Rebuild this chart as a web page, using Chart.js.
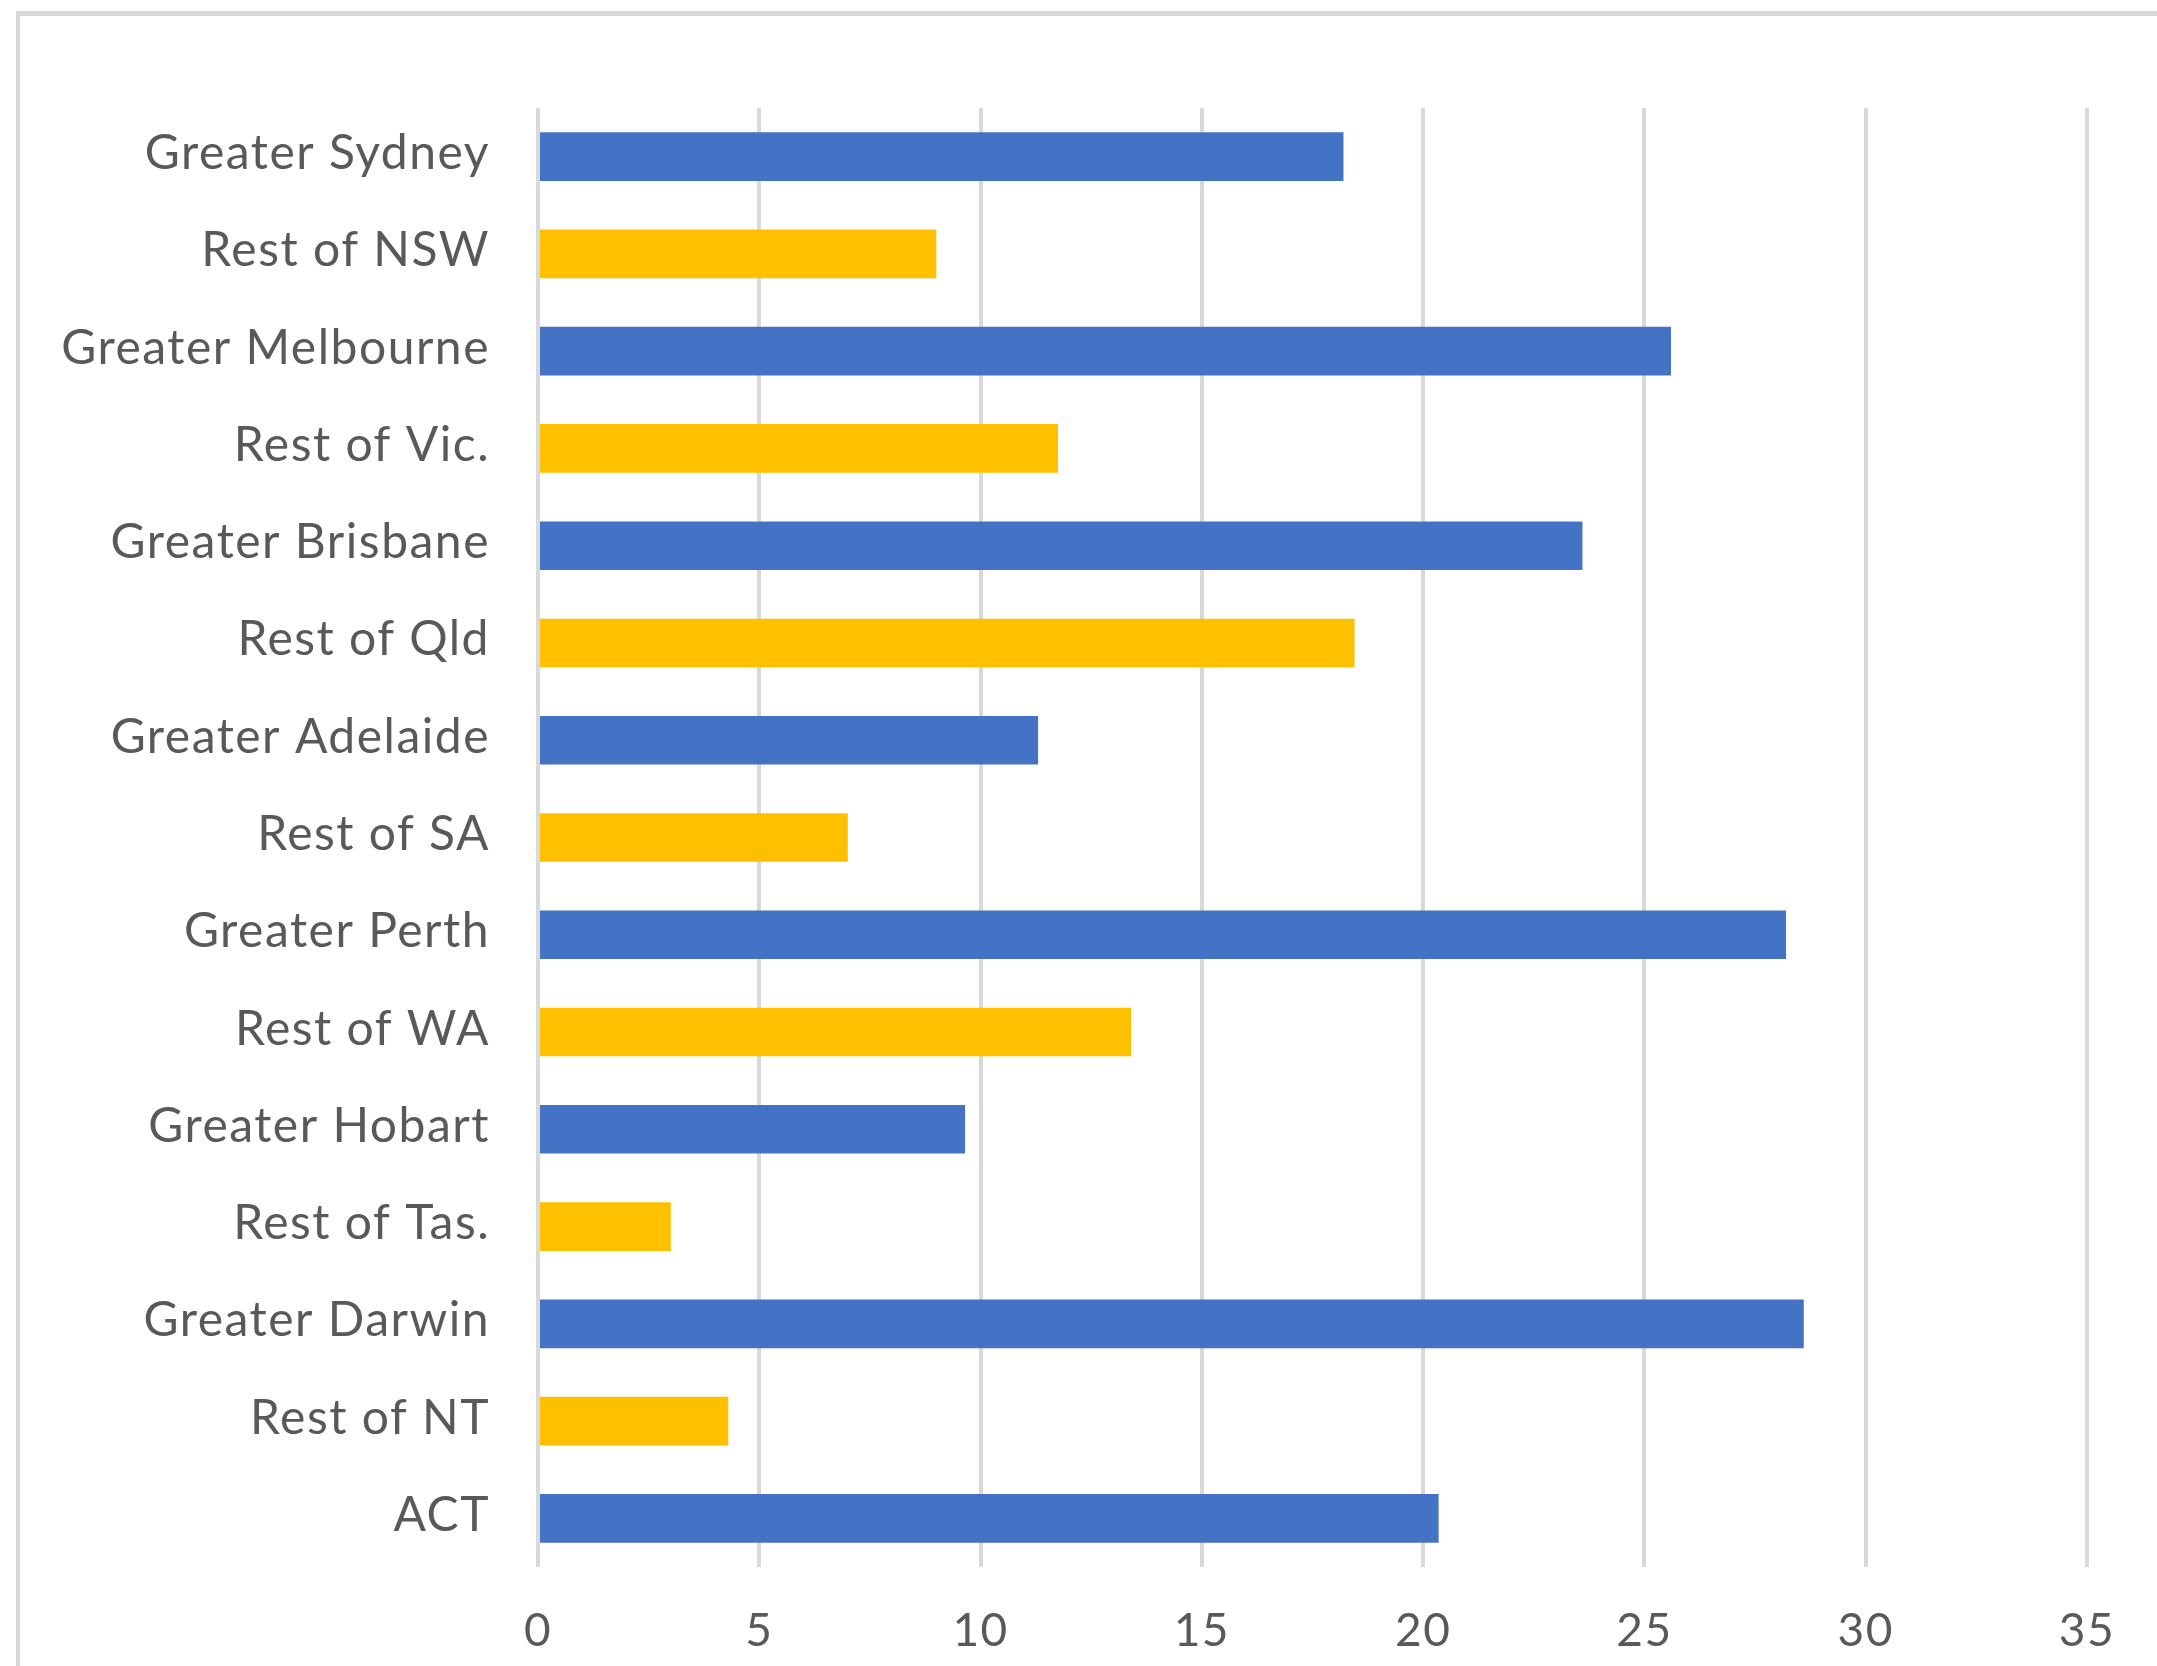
<!DOCTYPE html>
<html>
<head>
<meta charset="utf-8">
<script src="https://cdn.jsdelivr.net/npm/chart.js@4.4.1/dist/chart.umd.min.js"></script>
<style>
    html, body { margin: 0; padding: 0; background: #fff; overflow: hidden; }
    #wrap { position: relative; width: 2157px; height: 1666px; }
    #frame {
        position: absolute; left: 16px; top: 11px; width: 2400px; height: 2000px;
        border-left: 4px solid #d9d9d9; border-top: 5px solid #d9d9d9;
    }
    #chart { position: absolute; left: 0; top: 0; }
</style>
</head>
<body>
<div id="wrap">
    <div id="frame"></div>
    <canvas id="chart" width="2157" height="1666"></canvas>
</div>
<script>
// Regions, top to bottom as in the picture
const regions = [
    'Greater Sydney', 'Rest of NSW', 'Greater Melbourne', 'Rest of Vic.',
    'Greater Brisbane', 'Rest of Qld', 'Greater Adelaide', 'Rest of SA',
    'Greater Perth', 'Rest of WA', 'Greater Hobart', 'Rest of Tas.',
    'Greater Darwin', 'Rest of NT', 'ACT'
];
const values = [18.2, 9.0, 25.6, 11.75, 23.6, 18.45, 11.3, 7.0, 28.2, 13.4, 9.65, 3.0, 28.6, 4.3, 20.35];
// 'capital' = blue bar, 'rest' = yellow bar
const regionType = [
    'capital', 'rest', 'capital', 'rest', 'capital', 'rest', 'capital', 'rest',
    'capital', 'rest', 'capital', 'rest', 'capital', 'rest', 'capital'
];
const xTicks = [0, 5, 10, 15, 20, 25, 30, 35];

const typeColors = { capital: '#4472c4', rest: '#ffc000' };
const textColor = '#595959';
const gridColor = '#d9d9d9';

// the original text is spaced out a little wider than Lato's default
const letterSpacingPlugin = {
    id: 'letterSpacing',
    beforeDraw(chart) { chart.ctx.letterSpacing = '1.5px'; }
};

const ctx = document.getElementById('chart').getContext('2d');
new Chart(ctx, {
    type: 'bar',
    data: {
        labels: regions,
        datasets: [{
            data: values,
            backgroundColor: regionType.map(t => typeColors[t]),
            borderWidth: 0,
            categoryPercentage: 1.0,
            barPercentage: 0.5
        }]
    },
    plugins: [letterSpacingPlugin],
    options: {
        indexAxis: 'y',
        responsive: false,
        animation: false,
        layout: { padding: { left: 20, top: 108, right: 70, bottom: 0 } },
        plugins: {
            legend: { display: false },
            tooltip: { enabled: false }
        },
        scales: {
            x: {
                min: 0,
                max: 35,
                afterBuildTicks: scale => { scale.ticks = xTicks.map(v => ({ value: v })); },
                afterFit: scale => { scale.height = 99; },
                grid: { color: gridColor, lineWidth: 4, drawTicks: false },
                border: { display: false },
                ticks: {
                    color: textColor,
                    font: { family: 'Lato', size: 46 },
                    padding: 37
                }
            },
            y: {
                afterFit: scale => { scale.width = 518; },
                grid: { display: false, drawTicks: false },
                border: { display: false },
                ticks: {
                    color: textColor,
                    font: { family: 'Lato', size: 48 },
                    padding: 48,
                    labelOffset: -3,
                    autoSkip: false
                }
            }
        }
    }
});
</script>
</body>
</html>
